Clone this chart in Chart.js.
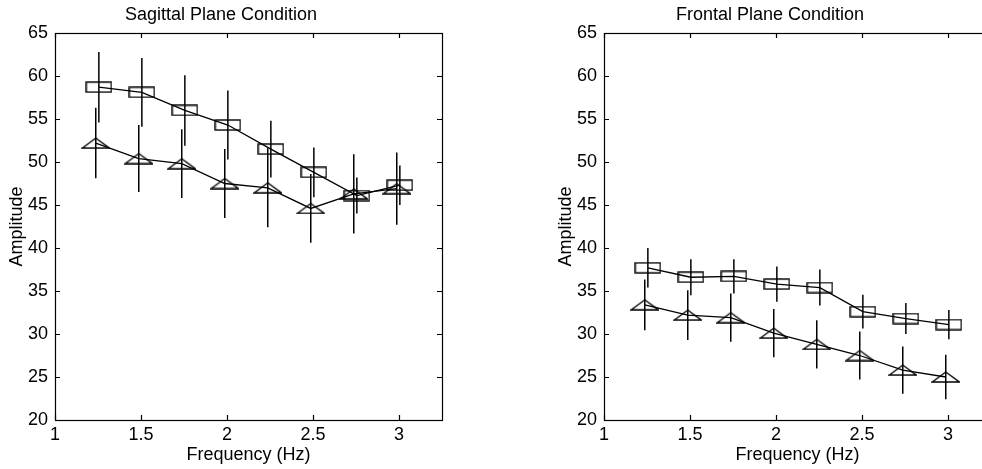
<!DOCTYPE html>
<html>
<head>
<meta charset="utf-8">
<script src="https://cdn.jsdelivr.net/npm/chart.js@4"></script>
<style>
  html, body { margin: 0; padding: 0; background: #fff; overflow: hidden; width: 982px; height: 469px; }
  .panel { position: absolute; top: 0; width: 491px; height: 469px; }
</style>
</head>
<body>
<div class="panel" style="left:0"><canvas id="sagittal" width="491" height="469"></canvas></div>
<div class="panel" style="left:549px"><canvas id="frontal" width="491" height="469"></canvas></div>
<script>
// Frequencies (Hz) – the two groups are plotted slightly apart
const freqSquare = [1.255, 1.505, 1.755, 2.005, 2.255, 2.505, 2.755, 3.005];
const freqTriangle = [1.237, 1.487, 1.737, 1.987, 2.237, 2.487, 2.737, 2.987];

// Sagittal plane condition
const sagSquare = [58.7, 58.1, 56.0, 54.3, 51.5, 48.8, 46.1, 47.3];
const sagSquareErr = [4.1, 4.0, 4.1, 4.0, 3.3, 2.9, 2.1, 2.3];
const sagTriangle = [52.2, 50.4, 49.8, 47.5, 47.0, 44.6, 46.3, 46.9];
const sagTriangleErr = [4.1, 3.9, 4.0, 4.0, 4.6, 4.0, 4.6, 4.2];

// Frontal plane condition
const froSquare = [37.7, 36.6, 36.7, 35.8, 35.4, 32.6, 31.8, 31.1];
const froSquareErr = [2.3, 2.1, 2.0, 2.05, 2.1, 1.95, 1.8, 1.7];
const froTriangle = [33.4, 32.2, 31.9, 30.1, 28.8, 27.5, 25.8, 25.0];
const froTriangleErr = [2.95, 2.9, 2.8, 2.8, 2.8, 2.8, 2.75, 2.6];

const xTicks = [1, 1.5, 2, 2.5, 3];
const yTicks = [20, 25, 30, 35, 40, 45, 50, 55, 60, 65];

Chart.defaults.color = '#000';
Chart.defaults.font.family = '"Liberation Sans", Arial, sans-serif';
Chart.defaults.font.size = 18;

// hollow markers, wider than tall like in the scan
function rectMarker() {
  const c = document.createElement('canvas');
  c.width = 27; c.height = 12;
  const g = c.getContext('2d');
  g.strokeStyle = '#000'; g.lineWidth = 1.4;
  g.strokeRect(1, 1, 25, 10);
  return c;
}
function triMarker() {
  const c = document.createElement('canvas');
  c.width = 29; c.height = 12;
  const g = c.getContext('2d');
  g.strokeStyle = '#000'; g.lineWidth = 1.4;
  g.beginPath();
  g.moveTo(1, 11); g.lineTo(14.5, 1); g.lineTo(28, 11); g.closePath();
  g.stroke();
  return c;
}

// error bars + box with inward ticks
const frame = {
  id: 'frame',
  afterDatasetsDraw(chart) {
    const { ctx, scales: { x, y } } = chart;
    ctx.save();
    ctx.strokeStyle = '#000';
    ctx.lineWidth = 1.5;
    chart.data.datasets.forEach(ds => {
      ds.data.forEach((p, i) => {
        const e = ds.errors[i];
        const px = x.getPixelForValue(p.x);
        ctx.beginPath();
        ctx.moveTo(px, y.getPixelForValue(p.y - e));
        ctx.lineTo(px, y.getPixelForValue(p.y + e));
        ctx.stroke();
      });
    });
    ctx.restore();
  },
  afterDraw(chart) {
    const { ctx, chartArea: a, scales: { x, y } } = chart;
    ctx.save();
    ctx.strokeStyle = '#000';
    ctx.lineWidth = 1.2;
    ctx.strokeRect(a.left + 0.5, a.top + 0.5, a.right - a.left, a.bottom - a.top);
    ctx.beginPath();
    xTicks.forEach(v => {
      const px = Math.round(x.getPixelForValue(v)) + 0.5;
      ctx.moveTo(px, a.bottom); ctx.lineTo(px, a.bottom - 5);
      ctx.moveTo(px, a.top); ctx.lineTo(px, a.top + 5);
    });
    yTicks.forEach(v => {
      const py = Math.round(y.getPixelForValue(v)) + 0.5;
      ctx.moveTo(a.left, py); ctx.lineTo(a.left + 5, py);
      ctx.moveTo(a.right, py); ctx.lineTo(a.right - 5, py);
    });
    ctx.stroke();
    ctx.restore();
  }
};

function points(xs, ys) {
  return xs.map((v, i) => ({ x: v, y: ys[i] }));
}

function makeChart(id, title, sq, sqErr, tri, triErr) {
  new Chart(document.getElementById(id), {
    type: 'line',
    data: {
      datasets: [
        {
          data: points(freqSquare, sq), errors: sqErr,
          borderColor: '#000', borderWidth: 1.3, pointStyle: rectMarker(),
          pointRadius: 6, tension: 0
        },
        {
          data: points(freqTriangle, tri), errors: triErr,
          borderColor: '#000', borderWidth: 1.3, pointStyle: triMarker(),
          pointRadius: 6, tension: 0
        }
      ]
    },
    options: {
      responsive: false,
      animation: false,
      layout: { padding: { left: 0, right: 49, top: 0, bottom: 0 } },
      plugins: {
        legend: { display: false },
        tooltip: { enabled: false },
        title: { display: true, text: title, font: { size: 18, weight: 'normal' }, padding: { top: 4, bottom: 7.4 } }
      },
      scales: {
        x: {
          type: 'linear', min: 1, max: 3.25,
          afterBuildTicks: ax => { ax.ticks = xTicks.map(v => ({ value: v })); },
          afterFit: ax => { ax.height = 49; },
          ticks: { padding: 4, callback: v => String(v), maxRotation: 0 },
          grid: { display: false, drawTicks: false },
          border: { display: false },
          title: { display: true, text: 'Frequency (Hz)', padding: { top: 0, bottom: 3 } }
        },
        y: {
          type: 'linear', min: 20, max: 65,
          afterBuildTicks: ax => { ax.ticks = yTicks.map(v => ({ value: v })); },
          afterFit: ax => { ax.width = 55; },
          ticks: { padding: 7, callback: v => String(v) },
          grid: { display: false, drawTicks: false },
          border: { display: false },
          title: { display: true, text: 'Amplitude', padding: { top: 6, bottom: 0 } }
        }
      }
    },
    plugins: [frame]
  });
}

makeChart('sagittal', 'Sagittal Plane Condition', sagSquare, sagSquareErr, sagTriangle, sagTriangleErr);
makeChart('frontal', 'Frontal Plane Condition', froSquare, froSquareErr, froTriangle, froTriangleErr);
</script>
</body>
</html>
